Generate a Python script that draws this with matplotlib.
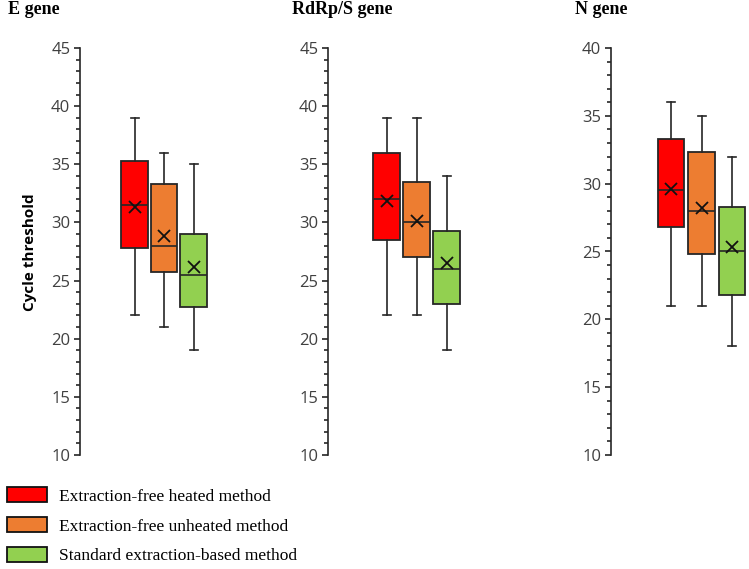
import matplotlib
matplotlib.use("Agg")
import matplotlib.pyplot as plt
from matplotlib.patches import Patch
from matplotlib.ticker import MultipleLocator

# box statistics: [heated, unheated, standard]
genes = ["E gene", "RdRp/S gene", "N gene"]
methods = ["Extraction-free heated method",
           "Extraction-free unheated method",
           "Standard extraction-based method"]
colors = ["#FF0000", "#ED7D31", "#92D050"]

e_low = [22, 21, 19]
e_q1 = [27.8, 25.75, 22.75]
e_med = [31.5, 28.0, 25.5]
e_q3 = [35.25, 33.3, 29.0]
e_high = [39, 36, 35]
e_mean = [31.3, 28.85, 26.2]

r_low = [22, 22, 19]
r_q1 = [28.5, 27.0, 23.0]
r_med = [32.0, 30.0, 26.0]
r_q3 = [36.0, 33.5, 29.3]
r_high = [39, 39, 34]
r_mean = [31.8, 30.1, 26.5]

n_low = [21, 21, 18]
n_q1 = [26.8, 24.8, 21.8]
n_med = [29.5, 28.0, 25.0]
n_q3 = [33.3, 32.3, 28.25]
n_high = [36, 35, 32]
n_mean = [29.6, 28.2, 25.3]

panels = [
    (e_low, e_q1, e_med, e_q3, e_high, e_mean, (10, 45)),
    (r_low, r_q1, r_med, r_q3, r_high, r_mean, (10, 45)),
    (n_low, n_q1, n_med, n_q3, n_high, n_mean, (10, 40)),
]

W, H = 749, 569
fig = plt.figure(figsize=(W / 100, H / 100), dpi=100)

# axis spine x (px), offset of first box from spine (px), spacing (px)
lefts = [80, 328, 611]
offs = [54.5, 58.5, 60]
spacing = [29.5, 30, 30.5]
ax_w = 138
y_top, y_bot = 48, 455
title_x = [8, 292, 575]

tick_col = "#404040"
edge = "#262626"

for i, (lo, q1, med, q3, hi, mn, ylim) in enumerate(panels):
    ax = fig.add_axes([lefts[i] / W, 1 - y_bot / H, ax_w / W, (y_bot - y_top) / H])
    stats = []
    for k in range(3):
        stats.append(dict(whislo=lo[k], q1=q1[k], med=med[k], q3=q3[k],
                          whishi=hi[k], mean=mn[k], fliers=[]))
    bw = 26.5 / spacing[i]
    bp = ax.bxp(stats, positions=[1, 2, 3], widths=bw, patch_artist=True,
                showmeans=True, showfliers=False,
                boxprops=dict(edgecolor=edge, linewidth=1.3),
                medianprops=dict(color=edge, linewidth=1.2),
                whiskerprops=dict(color=edge, linewidth=1.2),
                capprops=dict(color=edge, linewidth=1.2),
                capwidths=8 / spacing[i],
                meanprops=dict(marker="x", markeredgecolor="#111111",
                               markersize=9, markeredgewidth=1.3))
    for patch, c in zip(bp["boxes"], colors):
        patch.set_facecolor(c)
    x0 = 1 - offs[i] / spacing[i]
    ax.set_xlim(x0, x0 + ax_w / spacing[i])
    ax.set_ylim(*ylim)
    ax.yaxis.set_major_locator(MultipleLocator(5))
    ax.yaxis.set_minor_locator(MultipleLocator(1))
    for s in ["top", "right", "bottom"]:
        ax.spines[s].set_visible(False)
    ax.spines["left"].set_color(edge)
    ax.spines["left"].set_linewidth(1.2)
    ax.set_xticks([])
    ax.tick_params(axis="y", which="major", length=4, width=1.2, color=edge,
                   labelsize=12, labelcolor=tick_col, pad=3)
    ax.tick_params(axis="y", which="minor", length=3, width=1.2, color=edge)
    for lab in ax.get_yticklabels():
        lab.set_family("Open Sans")
    fig.text(title_x[i] / W, 1 - 10 / H, genes[i], family="Liberation Serif",
             fontweight="bold", fontsize=13, ha="left", va="center")

fig.text(30 / W, 1 - 252 / H, "Cycle threshold", family="Open Sans",
         fontweight="bold", fontsize=11, rotation=90, ha="center", va="center")

handles = [Patch(facecolor=c, edgecolor="#111111", linewidth=1.3) for c in colors]
fig.legend(handles, methods, loc="upper left", bbox_to_anchor=(0.0, 1 - 480 / H),
           frameon=False, prop=dict(family="Liberation Serif", size=12.5),
           handlelength=2.3, handleheight=1.0, handletextpad=0.7,
           labelspacing=0.7, borderaxespad=0.1, borderpad=0.3)

fig.savefig("out.png", dpi=100)
